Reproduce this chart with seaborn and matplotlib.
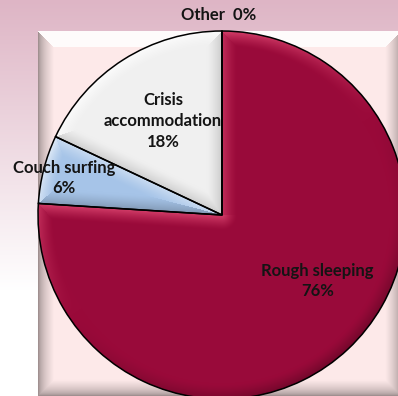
import numpy as np
import matplotlib
matplotlib.use("Agg")
import matplotlib.pyplot as plt
import matplotlib.colors as mcolors
import seaborn as sns

# Where people were sleeping
categories = ["Rough sleeping", "Couch surfing", "Crisis\naccommodation", "Other"]
shares = [76, 6, 18, 0]
slice_colors = ["#9a0a3a", "#a6c4e8", "#f0f0f0", "#e8e8e8"]

sns.set_theme(style="white")
plt.rcParams["font.family"] = ["Lato", "DejaVu Sans"]

W, H = 398, 396
CX, CY, R = 222.0, 215.0, 184.0   # pie centre / radius in pixels

fig = plt.figure(figsize=(W / 100, H / 100), dpi=100)
ax = fig.add_axes([0, 0, 1, 1])

x0, x1 = -CX / R, (W - CX) / R
y0, y1 = -(H - CY) / R, CY / R

# ---- backdrop: pink wash fading to white, with a bevelled panel ----
yy, xx = np.mgrid[0:H, 0:W].astype(float)
pink = np.array([0xde, 0xb5, 0xc5]) / 255.0
white = np.ones(3)
t = np.clip(yy / 290.0, 0, 1)[..., None]
img = pink * (1 - t) + white * t

face = np.array([0xfd, 0xe9, 0xe9]) / 255.0
shade = np.array([0x8c, 0x7e, 0x7e]) / 255.0
L, T, Rr, B, bw = 37.5, 30.5, 401.0, 395.5, 16.0
inside = (xx >= L) & (xx <= Rr) & (yy >= T) & (yy <= B)
dl, dt, dr, db = xx - L, yy - T, Rr - xx, B - yy
dmin = np.minimum.reduce([dl, dt, dr, db])
panel = np.broadcast_to(face, img.shape).copy()
bev = inside & (dmin < bw)
s = np.clip(dmin / bw, 0, 1)
prof = np.sqrt(s)[..., None]
edge_col = shade * (1 - prof) + face * prof
edge_col[dt == dmin] = white * 0.85 + face * 0.15
panel[bev] = edge_col[bev]
img[inside] = panel[inside]
ax.imshow(img, extent=(x0, x1, y0, y1), origin="upper", aspect="auto",
          zorder=0, interpolation="bilinear")

# ---- pie ----
wedges, _ = ax.pie(
    shares, colors=slice_colors, startangle=90, counterclock=False,
    radius=1.0, center=(0, 0),
    wedgeprops=dict(edgecolor="none", linewidth=0, zorder=2),
)

# soft bevel shading inside each slice (light from the upper left)
gx = (xx + 0.5 - CX) / R
gy = (CY - yy - 0.5) / R
rad = np.hypot(gx, gy)
phi = np.degrees(np.arctan2(gy, gx))
light = np.array([-0.55, 0.83])
band = 15.0 / R
for i, (w, col) in enumerate(zip(wedges, slice_colors)):
    th1, th2 = w.theta1, w.theta2
    if th2 - th1 < 0.5:
        continue
    rel = np.mod(phi - th1, 360.0)
    span = th2 - th1
    d_arc = 1.0 - rad
    d_e1 = rad * np.sin(np.radians(np.clip(rel, 0, 90)))
    d_e2 = rad * np.sin(np.radians(np.clip(span - rel, 0, 90)))
    n_arc = np.stack([np.cos(np.radians(phi)), np.sin(np.radians(phi))], -1) @ light
    a1, a2 = np.radians(th1 - 90), np.radians(th2 + 90)
    n_e1 = np.cos(a1) * light[0] + np.sin(a1) * light[1]
    n_e2 = np.cos(a2) * light[0] + np.sin(a2) * light[1]
    d = np.stack([d_arc, d_e1, d_e2], -1)
    k = np.argmin(d, -1)
    dm = np.take_along_axis(d, k[..., None], -1)[..., 0]
    nsel = np.where(k == 0, n_arc, np.where(k == 1, n_e1, n_e2))
    strength = np.clip(1 - dm / band, 0, 1) ** 1.3 * nsel
    base = np.array(mcolors.to_rgb(col))
    hi = np.array([0.96, 0.36, 0.52]) if i == 0 else white
    lo = base * 0.55
    pos = np.clip(strength, 0, 1)[..., None] * 0.8
    neg = np.clip(-strength, 0, 1)[..., None] * 0.6
    shaded = base * (1 - pos - neg) + hi * pos + lo * neg
    im = ax.imshow(shaded, extent=(x0, x1, y0, y1), origin="upper",
                   aspect="auto", zorder=3, interpolation="bilinear")
    im.set_clip_path(w)

# slice outlines on top of the shading
ax.pie(shares, colors=["none"] * len(shares), startangle=90, counterclock=False,
       radius=1.0, center=(0, 0),
       wedgeprops=dict(edgecolor="black", linewidth=1.1, fill=False, zorder=4))

label_text = [f"{c}\n{v}%" for c, v in zip(categories[:3], shares[:3])]
label_text.append(f"{categories[3]}  {shares[3]}%")
label_xy = [(0.52, -0.36), (-0.86, 0.20), (-0.32, 0.51), (-0.02, 1.085)]
spacing = [1.3, 1.3, 1.4, 1.3]
for txt, (lx, ly), ls in zip(label_text, label_xy, spacing):
    ax.text(lx, ly, txt, ha="center", va="center", fontsize=12,
            fontweight="bold", color="#141414", linespacing=ls, zorder=5)

ax.set_xlim(x0, x1)
ax.set_ylim(y0, y1)
ax.set_aspect("auto")
ax.axis("off")

fig.savefig("out.png", dpi=100)
